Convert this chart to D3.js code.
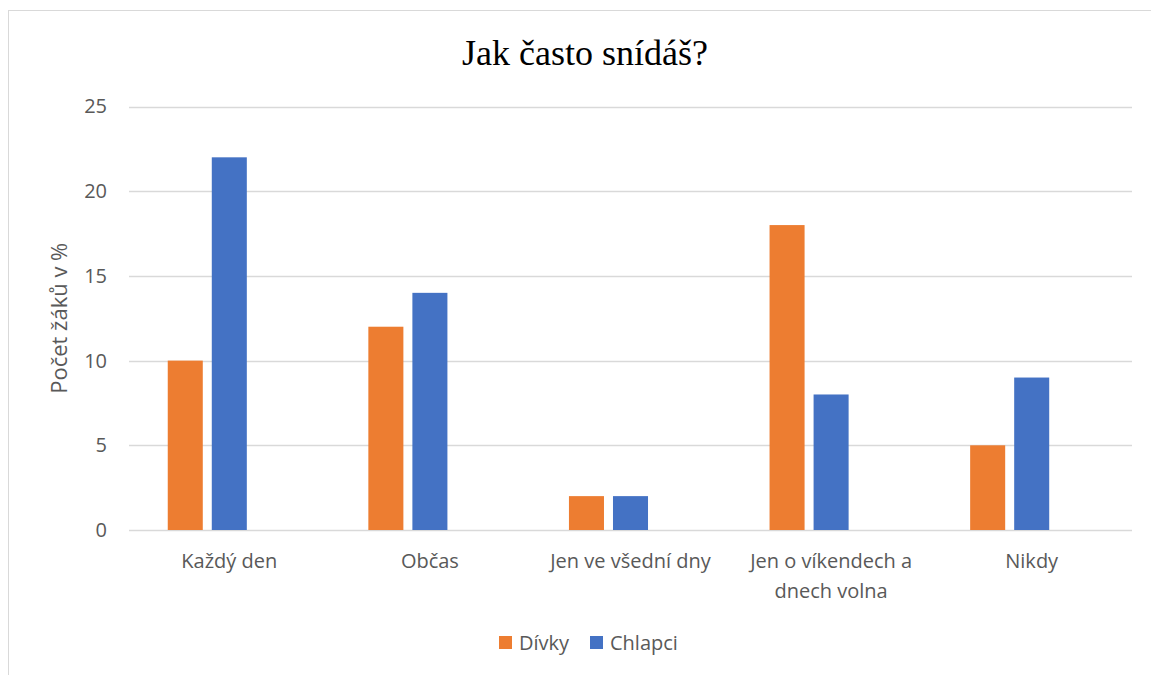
<!DOCTYPE html>
<html>
<head>
<meta charset="utf-8">
<script src="https://cdn.jsdelivr.net/npm/d3@7"></script>
<style>
  body { margin: 0; background: #fff; }
  text { fill: #595959; font-family: "Open Sans", sans-serif; }
</style>
</head>
<body>
<div id="chart"></div>
<script>
// chart size
const width = 1151;
const height = 675;
const margin = {left: 129, right: 19, top: 106.5, bottom: 145};

// data
const categories = ["Každý den", "Občas", "Jen ve všední dny", "Jen o víkendech a dnech volna", "Nikdy"];
const seriesNames = ["Dívky", "Chlapci"];
const divky = [10, 12, 2, 18, 5];
const chlapci = [22, 14, 2, 8, 9];
const yTicks = [0, 5, 10, 15, 20, 25];
const colors = ["#ED7D31", "#4472C4"];

const svg = d3.select("#chart")
  .append("svg")
  .attr("width", width)
  .attr("height", height);

// outer chart border (cut off at right and bottom)
svg.append("rect")
  .attr("x", 8.5).attr("y", 10.5)
  .attr("width", 1200).attr("height", 700)
  .attr("fill", "none")
  .attr("stroke", "#D9D9D9");

const x0 = d3.scaleBand()
  .domain(categories)
  .range([margin.left, width - margin.right]);

// three slots per group, the third one stays empty like in the original
const x1 = d3.scaleBand()
  .domain(d3.range(3))
  .range([0, x0.bandwidth()])
  .paddingInner(0.2045)
  .paddingOuter(0.88);

const y = d3.scaleLinear()
  .domain([0, 25])
  .range([height - margin.bottom, margin.top]);

// gridlines
svg.append("g")
  .selectAll("line")
  .data(yTicks)
  .join("line")
  .attr("x1", margin.left)
  .attr("x2", width - margin.right)
  .attr("y1", d => Math.round(y(d)) + 0.5)
  .attr("y2", d => Math.round(y(d)) + 0.5)
  .attr("stroke", "#D9D9D9")
  .attr("stroke-width", 1.3);

// y axis labels
const yAxis = svg.append("g")
  .attr("transform", `translate(${margin.left - 22},0)`)
  .call(d3.axisLeft(y).tickValues(yTicks).tickSize(0).tickPadding(0));
yAxis.select(".domain").remove();
yAxis.selectAll("text")
  .attr("font-size", "20px")
  .attr("font-family", "Open Sans, sans-serif")
  .attr("fill", "#595959");

// bars
const table = categories.map((c, i) => ({cat: c, values: [divky[i], chlapci[i]]}));

const groups = svg.append("g")
  .selectAll("g")
  .data(table)
  .join("g")
  .attr("transform", d => `translate(${x0(d.cat)},0)`);

groups.selectAll("rect")
  .data(d => d.values.map((v, s) => ({v, s})))
  .join("rect")
  .attr("x", d => x1(d.s))
  .attr("y", d => y(d.v))
  .attr("width", x1.bandwidth())
  .attr("height", d => y(0) - y(d.v))
  .attr("fill", d => colors[d.s]);

// category labels, wrapped like Excel
const xAxis = svg.append("g")
  .attr("transform", `translate(0,${height - margin.bottom})`)
  .call(d3.axisBottom(x0).tickSize(0).tickPadding(0));
xAxis.select(".domain").remove();
xAxis.selectAll("text").remove();
xAxis.selectAll(".tick")
  .append("text")
  .attr("text-anchor", "middle")
  .attr("font-size", "20px")
  .attr("fill", "#595959")
  .each(function(d) {
    const lines = d === "Jen o víkendech a dnech volna" ? ["Jen o víkendech a", "dnech volna"] : [d];
    d3.select(this).selectAll("tspan")
      .data(lines)
      .join("tspan")
      .attr("x", 0)
      .attr("y", (l, i) => 38 + i * 30)
      .text(l => l);
  });

// title
svg.append("text")
  .attr("x", 585)
  .attr("y", 65)
  .attr("text-anchor", "middle")
  .style("font-family", "'Liberation Serif', 'Times New Roman', serif")
  .style("fill", "#000")
  .attr("font-size", "36px")
  .text("Jak často snídáš?");

// y axis title
svg.append("text")
  .attr("transform", `translate(67,${(y(0) + y(25)) / 2}) rotate(-90)`)
  .attr("text-anchor", "middle")
  .attr("font-size", "22px")
  .text("Počet žáků v %");

// legend
const legend = svg.append("g")
  .attr("transform", "translate(499,636)");
const legX = [0, 91];
seriesNames.forEach((name, i) => {
  legend.append("rect")
    .attr("x", legX[i]).attr("y", 0)
    .attr("width", 13).attr("height", 13)
    .attr("fill", colors[i]);
  legend.append("text")
    .attr("x", legX[i] + 20)
    .attr("y", 14)
    .attr("font-size", "20px")
    .text(name);
});
</script>
</body>
</html>
